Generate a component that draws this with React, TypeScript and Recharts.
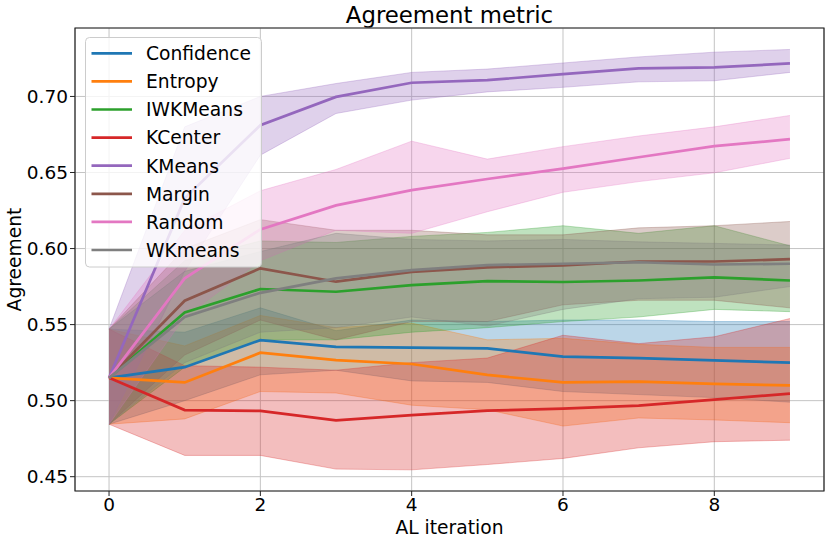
import * as React from "react"
import {
  Area,
  CartesianGrid,
  ComposedChart,
  Label,
  Legend,
  Line,
  ReferenceArea,
  XAxis,
  YAxis,
} from "recharts"

// AL iterations on the x axis
const iterations = [0, 1, 2, 3, 4, 5, 6, 7, 8, 9]

// mean agreement + lower / upper edge of the shaded band
const confidence = [0.515, 0.522, 0.5398, 0.5354, 0.5348, 0.5344, 0.529, 0.528, 0.5265, 0.525]
const confidenceLow = [0.4845, 0.5, 0.517, 0.52, 0.513, 0.512, 0.506, 0.504, 0.502, 0.499]
const confidenceHigh = [0.547, 0.545, 0.561, 0.546, 0.553, 0.552, 0.553, 0.553, 0.552, 0.552]

const entropy = [0.515, 0.512, 0.5315, 0.5267, 0.5241, 0.5169, 0.512, 0.5125, 0.511, 0.51]
const entropyLow = [0.4845, 0.488, 0.506, 0.505, 0.497, 0.494, 0.4833, 0.4886, 0.4873, 0.4855]
const entropyHigh = [0.547, 0.536, 0.556, 0.548, 0.551, 0.54, 0.541, 0.537, 0.535, 0.535]

const iwkmeans = [0.515, 0.558, 0.5734, 0.5716, 0.576, 0.5786, 0.578, 0.579, 0.581, 0.579]
const iwkmeansLow = [0.4845, 0.522, 0.54, 0.54, 0.545, 0.548, 0.552, 0.555, 0.56, 0.5585]
const iwkmeansHigh = [0.547, 0.592, 0.605, 0.604, 0.608, 0.6106, 0.615, 0.61, 0.615, 0.6018]

const kcenter = [0.515, 0.4938, 0.4933, 0.487, 0.4905, 0.4934, 0.4947, 0.4967, 0.5007, 0.5046]
const kcenterLow = [0.4845, 0.464, 0.464, 0.455, 0.4545, 0.458, 0.462, 0.469, 0.473, 0.474]
const kcenterHigh = [0.547, 0.523, 0.522, 0.52, 0.525, 0.528, 0.543, 0.5375, 0.542, 0.554]

const kmeans = [0.515, 0.633, 0.6811, 0.6997, 0.709, 0.7107, 0.7147, 0.7184, 0.7191, 0.7217]
const kmeansLow = [0.4845, 0.585, 0.6614, 0.6888, 0.6976, 0.703, 0.706, 0.7096, 0.7103, 0.7158]
const kmeansHigh = [0.547, 0.68, 0.7, 0.7085, 0.7158, 0.718, 0.722, 0.726, 0.7291, 0.7309]

const margin = [0.515, 0.5657, 0.587, 0.5782, 0.5847, 0.5876, 0.589, 0.5915, 0.5915, 0.593]
const marginLow = [0.4845, 0.53, 0.553, 0.54, 0.552, 0.552, 0.563, 0.566, 0.566, 0.561]
const marginHigh = [0.547, 0.6, 0.619, 0.612, 0.612, 0.609, 0.609, 0.6136, 0.615, 0.6178]

const random = [0.515, 0.5804, 0.6126, 0.6284, 0.6384, 0.6457, 0.6525, 0.66, 0.6673, 0.6719]
const randomLow = [0.4845, 0.555, 0.592, 0.612, 0.61, 0.6242, 0.637, 0.644, 0.6498, 0.6593]
const randomHigh = [0.547, 0.612, 0.638, 0.652, 0.6706, 0.6588, 0.667, 0.674, 0.68, 0.6875]

const wkmeans = [0.515, 0.5551, 0.5709, 0.5804, 0.5858, 0.5891, 0.59, 0.591, 0.5895, 0.59]
const wkmeansLow = [0.4845, 0.525, 0.545, 0.548, 0.555, 0.549, 0.56, 0.567, 0.568, 0.575]
const wkmeansHigh = [0.547, 0.585, 0.598, 0.61, 0.606, 0.605, 0.606, 0.6044, 0.6034, 0.6023]

const xTicks = [0, 2, 4, 6, 8]
const yTicks = [0.45, 0.5, 0.55, 0.6, 0.65, 0.7]

const series = [
  { name: "Confidence", color: "#1f77b4", mean: confidence, low: confidenceLow, high: confidenceHigh },
  { name: "Entropy", color: "#ff7f0e", mean: entropy, low: entropyLow, high: entropyHigh },
  { name: "IWKMeans", color: "#2ca02c", mean: iwkmeans, low: iwkmeansLow, high: iwkmeansHigh },
  { name: "KCenter", color: "#d62728", mean: kcenter, low: kcenterLow, high: kcenterHigh },
  { name: "KMeans", color: "#9467bd", mean: kmeans, low: kmeansLow, high: kmeansHigh },
  { name: "Margin", color: "#8c564b", mean: margin, low: marginLow, high: marginHigh },
  { name: "Random", color: "#e377c2", mean: random, low: randomLow, high: randomHigh },
  { name: "WKmeans", color: "#7f7f7f", mean: wkmeans, low: wkmeansLow, high: wkmeansHigh },
]

const data = iterations.map((it, i) => {
  const row: any = { it }
  series.forEach((s) => {
    row[s.name] = s.mean[i]
    row[s.name + "_band"] = [s.low[i], s.high[i]]
  })
  return row
})

const FONT = "DejaVu Sans, sans-serif"
const X_DOMAIN = [-0.45, 9.45]
const Y_DOMAIN = [0.4406, 0.745]

function LegendBox() {
  return (
    <svg width={178} height={232} style={{ display: "block" }}>
      <rect x={0.5} y={0.5} width={176} height={229.5} rx={4} fill="#fff" fillOpacity={0.8} stroke="#cccccc" />
      {series.map((s, i) => {
        const cy = 16.3 + i * 28.1
        return (
          <g key={s.name}>
            <line x1={6.5} x2={47} y1={cy} y2={cy} stroke={s.color} strokeWidth={2.7} />
            <text x={61} y={cy + 6.8} fontSize={18.7} fontFamily={FONT} fill="#000">
              {s.name}
            </text>
          </g>
        )
      })}
    </svg>
  )
}

export default function App() {
  return (
    <div style={{ position: "absolute", left: 0, top: 0, width: 830, height: 543, background: "#fff" }}>
      <div
        style={{
          position: "absolute",
          left: 75,
          width: 749,
          top: 4,
          textAlign: "center",
          fontFamily: FONT,
          fontSize: 22.8,
          lineHeight: 1,
          color: "#000",
        }}
      >
        Agreement metric
      </div>
      <ComposedChart width={830} height={543} data={data} margin={{ top: 28, right: 6, bottom: 0, left: 0 }}>
        {series.map((s) => (
          <Area
            key={s.name + "_band"}
            type="linear"
            dataKey={s.name + "_band"}
            stroke={s.color}
            strokeOpacity={0.3}
            strokeWidth={1}
            fill={s.color}
            fillOpacity={0.3}
            dot={false}
            activeDot={false}
            legendType="none"
            isAnimationActive={false}
          />
        ))}
        <CartesianGrid stroke="#c4c4c4" strokeWidth={1} />
        <XAxis
          dataKey="it"
          type="number"
          domain={X_DOMAIN}
          ticks={xTicks}
          allowDataOverflow
          height={52}
          tickSize={5}
          tickLine={{ stroke: "#222" }}
          axisLine={false}
          tick={{ fontSize: 18.5, fill: "#000", fontFamily: FONT }}
        >
          <Label value="AL iteration" position="insideBottom" offset={9} fontSize={18.7} fill="#000" fontFamily={FONT} />
        </XAxis>
        <YAxis
          type="number"
          domain={Y_DOMAIN}
          ticks={yTicks}
          allowDataOverflow
          width={75}
          tickSize={5}
          tickLine={{ stroke: "#222" }}
          axisLine={false}
          tickFormatter={(v: number) => v.toFixed(2)}
          tick={{ fontSize: 18.5, fill: "#000", fontFamily: FONT }}
        >
          <Label
            value="Agreement"
            angle={-90}
            position="insideLeft"
            offset={14}
            fontSize={18.7}
            fill="#000"
            fontFamily={FONT}
            style={{ textAnchor: "middle" }}
          />
        </YAxis>
        {series.map((s) => (
          <Line
            key={s.name}
            type="linear"
            dataKey={s.name}
            stroke={s.color}
            strokeWidth={2.7}
            dot={false}
            activeDot={false}
            isAnimationActive={false}
          />
        ))}
        <ReferenceArea
          x1={X_DOMAIN[0]}
          x2={X_DOMAIN[1]}
          y1={Y_DOMAIN[0]}
          y2={Y_DOMAIN[1]}
          fill="none"
          stroke="#222"
          strokeWidth={1.2}
          ifOverflow="visible"
        />
        <Legend
          layout="vertical"
          align="center"
          verticalAlign="middle"
          content={() => <LegendBox />}
          wrapperStyle={{ left: 85, top: 37, width: 178, height: 232 }}
        />
      </ComposedChart>
    </div>
  )
}
